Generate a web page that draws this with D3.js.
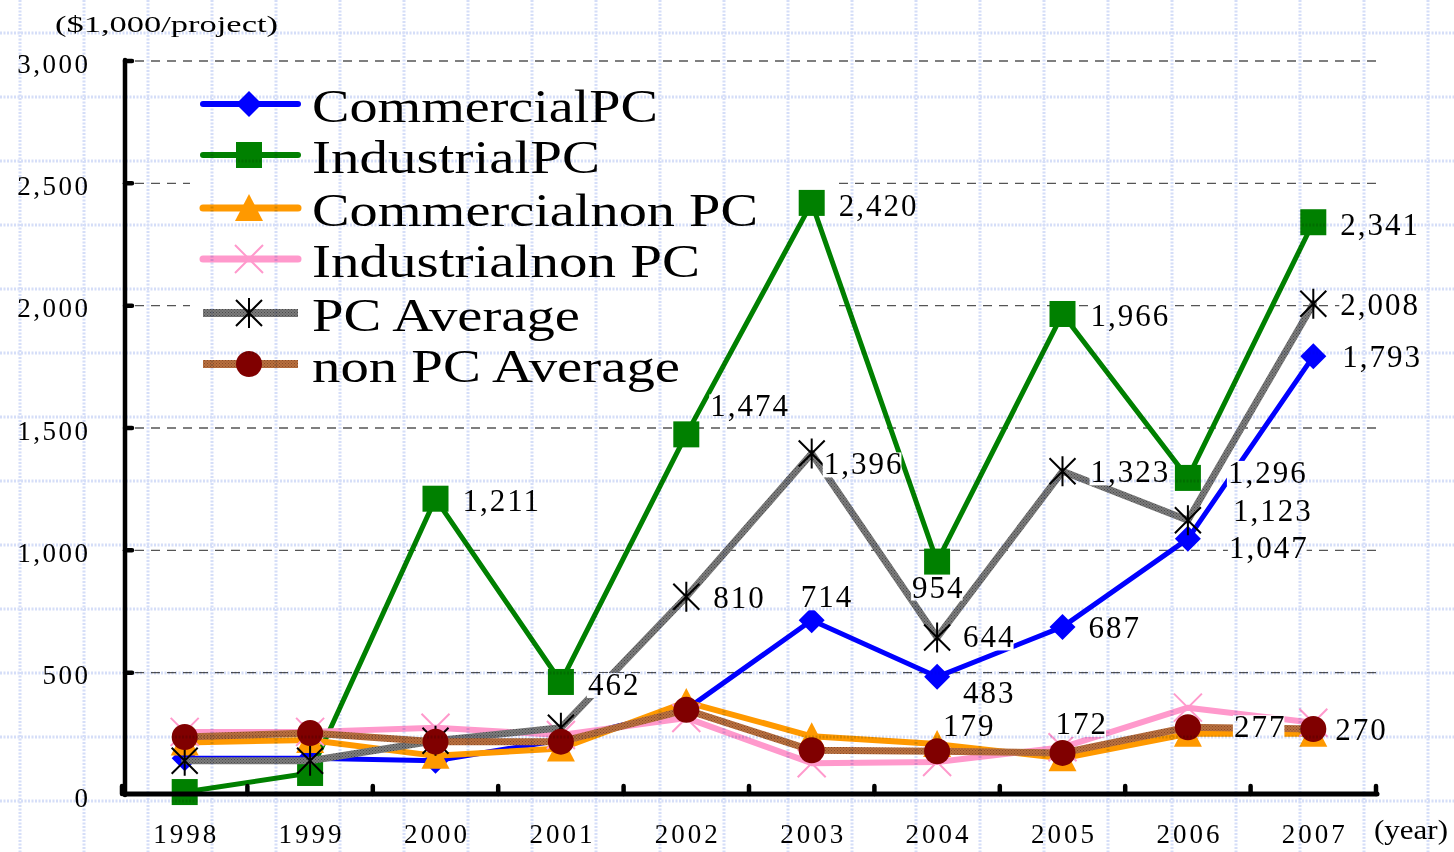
<!DOCTYPE html>
<html>
<head>
<meta charset="utf-8">
<script src="https://cdn.jsdelivr.net/npm/d3@7"></script>
<style>
  html, body { margin: 0; padding: 0; background: #ffffff; }
  svg { display: block; }
  text { font-family: "Liberation Serif", "DejaVu Serif", serif; fill: #000; }
</style>
</head>
<body>
<svg id="chart" width="1454" height="852"></svg>
<script>
// ---------------- data ----------------
const years = ["1998","1999","2000","2001","2002","2003","2004","2005","2006","2007"];
const commercialPC     = [150, 150, 140, 225, 350, 714, 483, 687, 1047, 1793];
const industrialPC     = [12, 90, 1211, 462, 1474, 2420, 954, 1966, 1296, 2341];
const commercialNonPC  = [215, 225, 160, 190, 380, 240, 208, 150, 250, 250];
const industrialNonPC  = [258, 258, 275, 245, 315, 130, 135, 195, 357, 295];
const pcAverage        = [140, 140, 222, 275, 810, 1396, 644, 1323, 1123, 2008];
const nonPCAverage     = [237, 253, 218, 218, 348, 183, 179, 172, 277, 270];
const yTicks = [0, 500, 1000, 1500, 2000, 2500, 3000];
const seriesNames = ["CommercialPC", "IndustrialPC", "Commercialnon PC", "Industrialnon PC", "PC Average", "non PC Average"];
const yUnitLabel = "($1,000/project)";
const xUnitLabel = "(year)";

// ---------------- layout / style ----------------
const svg = d3.select("#chart");
const W = 1454, H = 852;
const x = d3.scaleBand().domain(years).range([122, 1376]).paddingInner(0).paddingOuter(0);
const y = d3.scaleLinear().domain([0, 3000]).range([795, 61]);
const cx = d => x(d) + x.bandwidth() / 2;

const defs = svg.append("defs");
function texture(id, base, dark) {
  const p = defs.append("pattern").attr("id", id).attr("width", 3).attr("height", 3)
    .attr("patternUnits", "userSpaceOnUse");
  p.append("rect").attr("width", 3).attr("height", 3).attr("fill", base);
  p.append("rect").attr("x", 0).attr("y", 0).attr("width", 1).attr("height", 1).attr("fill", dark);
  p.append("rect").attr("x", 1.5).attr("y", 1.5).attr("width", 1).attr("height", 1).attr("fill", dark);
}
texture("grayTex", "#7c7c7c", "#4a4a4a");
texture("brownTex", "#b9703f", "#8a4a26");

const series = [
  { name: seriesNames[0], values: commercialPC,    color: "#0000ff", stroke: "#0000ff", width: 5, marker: "diamond" },
  { name: seriesNames[1], values: industrialPC,    color: "#008000", stroke: "#008000", width: 5, marker: "square" },
  { name: seriesNames[2], values: commercialNonPC, color: "#ff9900", stroke: "#ff9900", width: 6, marker: "triangle" },
  { name: seriesNames[3], values: industrialNonPC, color: "#ff99cc", stroke: "#ff99cc", width: 6, marker: "x" },
  { name: seriesNames[4], values: pcAverage,       color: "#000000", stroke: "url(#grayTex)", width: 7, marker: "star" },
  { name: seriesNames[5], values: nonPCAverage,    color: "#800000", stroke: "url(#brownTex)", width: 7, marker: "circle" }
];

function drawMarker(g, type, px, py, color) {
  const s = 13;
  if (type === "diamond") {
    g.append("path").attr("d", `M${px},${py - s}L${px + s},${py}L${px},${py + s}L${px - s},${py}Z`).attr("fill", color);
  } else if (type === "square") {
    g.append("rect").attr("x", px - s).attr("y", py - s).attr("width", 2 * s).attr("height", 2 * s).attr("fill", color);
  } else if (type === "triangle") {
    g.append("path").attr("d", `M${px},${py - 14}L${px + 14},${py + 13}L${px - 14},${py + 13}Z`).attr("fill", color);
  } else if (type === "x") {
    g.append("path").attr("d", `M${px - 14},${py - 14}L${px + 14},${py + 14}M${px + 14},${py - 14}L${px - 14},${py + 14}`)
      .attr("stroke", color).attr("stroke-width", 2).attr("fill", "none");
  } else if (type === "star") {
    g.append("path").attr("d", `M${px - 13},${py - 13}L${px + 13},${py + 13}M${px + 13},${py - 13}L${px - 13},${py + 13}M${px},${py - 15}L${px},${py + 15}`)
      .attr("stroke", color).attr("stroke-width", 2).attr("fill", "none");
  } else if (type === "circle") {
    g.append("circle").attr("cx", px).attr("cy", py).attr("r", 13).attr("fill", color);
  }
}

// ---------------- gridlines (dashed gray) ----------------
const gridG = svg.append("g");
gridG.selectAll("line").data(yTicks.filter(v => v > 0)).join("line")
  .attr("x1", 135).attr("x2", 1377)
  .attr("y1", d => y(d)).attr("y2", d => y(d))
  .attr("stroke", "#555").attr("stroke-width", 1.4).attr("stroke-dasharray", "9 7");

// legend background (hides gridlines behind legend)
const legendBox = { x: 190, y: 72, w: 645, h: 322 };
svg.append("rect").attr("x", legendBox.x).attr("y", legendBox.y)
  .attr("width", legendBox.w).attr("height", legendBox.h).attr("fill", "#fff");

// ---------------- legend ----------------
const legendRows = [104, 155, 208, 259, 313, 364];
const legendTextEnd = [658, 600, 758, 700, 580, 680];
const legG = svg.append("g");
series.forEach((s, i) => {
  const ly = legendRows[i];
  legG.append("line").attr("x1", 203).attr("x2", 298).attr("y1", ly).attr("y2", ly)
    .attr("stroke", s.stroke).attr("stroke-width", s.width + 1)
    .attr("stroke-linecap", (s.marker === "star" || s.marker === "circle") ? "butt" : "round");
  drawMarker(legG, s.marker, 249, ly, s.color);
  legG.append("text").attr("x", 312).attr("y", ly + 18)
    .attr("font-size", 47).attr("textLength", legendTextEnd[i] - 312).attr("lengthAdjust", "spacingAndGlyphs")
    .text(s.name);
});

// ---------------- series ----------------
const line = d3.line().x((d, i) => cx(years[i])).y(d => y(d));
series.forEach(s => {
  const g = svg.append("g");
  g.append("path").datum(s.values).attr("d", line)
    .attr("fill", "none").attr("stroke", s.stroke).attr("stroke-width", s.width)
    .attr("stroke-linejoin", "round").attr("stroke-linecap", "round");
  s.values.forEach((v, i) => drawMarker(g, s.marker, cx(years[i]), y(v), s.color));
});

// ---------------- axes ----------------
const axisG = svg.append("g");
axisG.append("line").attr("x1", 125).attr("x2", 125).attr("y1", 60).attr("y2", 795)
  .attr("stroke", "#000").attr("stroke-width", 4.5).attr("stroke-linecap", "round");
axisG.append("line").attr("x1", 124).attr("x2", 1377).attr("y1", 794).attr("y2", 794)
  .attr("stroke", "#000").attr("stroke-width", 5).attr("stroke-linecap", "round");
axisG.selectAll(".yt").data(yTicks.filter(v => v > 0)).join("line").attr("class", "yt")
  .attr("x1", 125).attr("x2", 132).attr("y1", d => y(d)).attr("y2", d => y(d))
  .attr("stroke", "#000").attr("stroke-width", 4.5).attr("stroke-linecap", "round");
const boundaries = years.map(d => x(d)).concat([x(years[years.length - 1]) + x.bandwidth()]);
axisG.selectAll(".xt").data(boundaries).join("line").attr("class", "xt")
  .attr("x1", d => d).attr("x2", d => d).attr("y1", 794).attr("y2", 786)
  .attr("stroke", "#000").attr("stroke-width", 4.5).attr("stroke-linecap", "round");

const fmt = d3.format(",");
const yAxis = d3.axisLeft(y).tickValues(yTicks).tickFormat(fmt).tickSize(0);
const yAxisG = svg.append("g").attr("transform", "translate(90.5,0)").call(yAxis);
yAxisG.select(".domain").remove();
yAxisG.selectAll("text").attr("font-size", 27).attr("letter-spacing", 2.5)
  .attr("font-family", "Liberation Serif").attr("fill", "#000")
  .attr("dy", null).attr("y", 11).attr("x", 0).attr("text-anchor", "end");

const xAxis = d3.axisBottom(x).tickSize(0);
const xAxisG = svg.append("g").attr("transform", "translate(1.5,0)").call(xAxis);
xAxisG.select(".domain").remove();
xAxisG.selectAll("text").attr("font-size", 27).attr("letter-spacing", 3)
  .attr("font-family", "Liberation Serif").attr("fill", "#000")
  .attr("dy", null).attr("y", 843);

svg.append("text").attr("x", 55).attr("y", 32).attr("font-size", 23)
  .attr("textLength", 223).attr("lengthAdjust", "spacingAndGlyphs").text(yUnitLabel);
svg.append("text").attr("x", 1374).attr("y", 839).attr("font-size", 28)
  .attr("textLength", 74).attr("lengthAdjust", "spacingAndGlyphs").text(xUnitLabel);

// ---------------- value labels ----------------
// offsets: [series index, year index, dx to text left, dy to baseline]
const labelOffsets = [
  [1, 2, 27, 12], [1, 3, 27, 13], [1, 4, 24, -18], [1, 5, 27, 13], [1, 6, -25, 36],
  [1, 7, 28, 12], [1, 8, 40, 5], [1, 9, 27, 13],
  [4, 4, 27, 11], [4, 5, 12, 21], [4, 6, 26, 10], [4, 7, 28, 11], [4, 8, 45, 1], [4, 9, 27, 11],
  [0, 5, -11, -13], [0, 6, 26, 26], [0, 7, 26, 11], [0, 8, 41, 19], [0, 9, 29, 11],
  [5, 6, 6, -15], [5, 7, -7, -19], [5, 8, 46, 10], [5, 9, 22, 11]
];
const labG = svg.append("g");
labelOffsets.forEach(([si, yi, dx, dy]) => {
  const v = series[si].values[yi];
  const g = labG.append("g");
  const t = g.append("text").attr("x", cx(years[yi]) + dx).attr("y", y(v) + dy)
    .attr("font-size", 31).attr("letter-spacing", 2).text(fmt(v));
  const b = t.node().getBBox();
  g.insert("rect", "text").attr("x", b.x - 1).attr("y", b.y + 6).attr("width", b.width - 1)
    .attr("height", b.height - 10).attr("fill", "#fff");
});

// ---------------- background blue grid (multiplied on top) ----------------
const bg = svg.append("g").style("mix-blend-mode", "multiply").attr("pointer-events", "none");
const vx = d3.range(20, W, 64), hy = d3.range(33, H, 64);
bg.selectAll(".v").data(vx).join("line").attr("class", "v")
  .attr("x1", d => d).attr("x2", d => d).attr("y1", 0).attr("y2", H)
  .attr("stroke", "#d5def8").attr("stroke-width", 3).attr("stroke-dasharray", "2 1.5");
bg.selectAll(".h").data(hy).join("line").attr("class", "h")
  .attr("x1", 0).attr("x2", W).attr("y1", d => d).attr("y2", d => d)
  .attr("stroke", "#d5def8").attr("stroke-width", 3).attr("stroke-dasharray", "2 1.5");
</script>
</body>
</html>
